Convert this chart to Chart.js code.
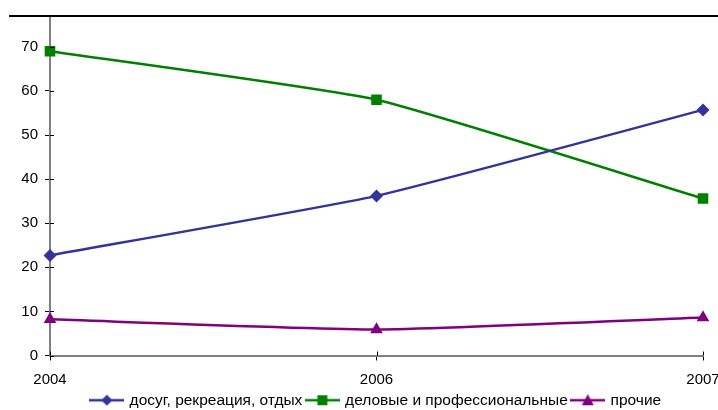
<!DOCTYPE html>
<html>
<head>
<meta charset="utf-8">
<script src="https://cdn.jsdelivr.net/npm/chart.js@4/dist/chart.umd.min.js"></script>
<style>
    html, body { margin: 0; padding: 0; background: #fff; }
    #wrap { width: 718px; height: 410px; }
</style>
</head>
<body>
<div id="wrap"><canvas id="chart" width="718" height="410"></canvas></div>
<script>
const years = ['2004', '2006', '2007']
const leisure = [22.7, 36.2, 55.7]
const business = [69.0, 58.0, 35.6]
const other = [8.2, 5.9, 8.6]
const yTicks = [0, 10, 20, 30, 40, 50, 60, 70]

const font = 'Arial, "Liberation Sans", sans-serif'

// small picture for legend: line with marker in middle
function legendIcon(color, style) {
    const c = document.createElement('canvas')
    c.width = 35
    c.height = 12
    const g = c.getContext('2d')
    g.strokeStyle = color
    g.lineWidth = 2.5
    g.beginPath()
    g.moveTo(0, 6)
    g.lineTo(35, 6)
    g.stroke()
    g.fillStyle = color
    g.beginPath()
    if (style == 'rectRot') {
        g.moveTo(17.5, 0.5); g.lineTo(23, 6); g.lineTo(17.5, 11.5); g.lineTo(12, 6)
    } else if (style == 'rect') {
        g.rect(12.5, 1, 10, 10)
    } else {
        g.moveTo(17.5, 0); g.lineTo(23.5, 11); g.lineTo(11.5, 11)
    }
    g.closePath()
    g.fill()
    return c
}

function makeSet(label, data, color, style, radius) {
    return {
        label: label,
        data: data,
        borderColor: color,
        backgroundColor: color,
        borderWidth: 2.5,
        pointStyle: style,
        pointRadius: radius,
        pointHoverRadius: radius,
        pointBorderWidth: 0,
        tension: 0.15,
        legendIcon: legendIcon(color, style)
    }
}

// top frame line and inner halves of the tick marks
const extras = {
    id: 'extras',
    afterDraw(chart) {
        const ctx = chart.ctx
        const a = chart.chartArea
        const x = chart.scales.x
        const y = chart.scales.y
        ctx.save()
        ctx.strokeStyle = '#000'
        ctx.lineWidth = 2
        ctx.beginPath()
        ctx.moveTo(9, a.top)
        ctx.lineTo(chart.width, a.top)
        ctx.stroke()
        ctx.lineWidth = 1
        ctx.beginPath()
        y.ticks.forEach((t) => {
            const py = Math.round(y.getPixelForValue(t.value)) + 0.5
            ctx.moveTo(a.left, py)
            ctx.lineTo(a.left + 4, py)
        })
        x.ticks.forEach((t, i) => {
            const px = Math.round(x.getPixelForTick(i)) + 0.5
            ctx.moveTo(px, a.bottom)
            ctx.lineTo(px, a.bottom - 4)
        })
        ctx.stroke()
        ctx.restore()
    }
}

Chart.defaults.font.family = font
Chart.defaults.font.size = 15
Chart.defaults.color = '#000'

new Chart(document.getElementById('chart'), {
    type: 'line',
    data: {
        labels: years,
        datasets: [
            makeSet('досуг, рекреация, отдых', leisure, '#333399', 'rectRot', 6.5),
            makeSet('деловые и профессиональные', business, '#008000', 'rect', 7.5),
            makeSet('прочие', other, '#800080', 'triangle', 7.3)
        ]
    },
    options: {
        responsive: false,
        animation: false,
        layout: { padding: { top: 14, right: 0, left: 0, bottom: -8 } },
        plugins: {
            tooltip: { enabled: false },
            legend: {
                position: 'bottom',
                fullSize: false,
                labels: {
                    usePointStyle: true,
                    pointStyleWidth: 30,
                    padding: 5,
                    font: { size: 15.5 },
                    generateLabels(chart) {
                        return chart.data.datasets.map((ds, i) => ({
                            text: ds.label,
                            pointStyle: ds.legendIcon,
                            fillStyle: ds.borderColor,
                            strokeStyle: ds.borderColor,
                            lineWidth: 0,
                            hidden: false,
                            datasetIndex: i
                        }))
                    }
                }
            }
        },
        scales: {
            x: {
                type: 'category',
                offset: false,
                border: { color: '#808080', width: 2 },
                grid: { drawOnChartArea: false, color: '#000', tickLength: 5, lineWidth: 1 },
                ticks: { padding: 10, maxRotation: 0 },
                afterFit(scale) {
                    scale.height = 32
                    scale.paddingLeft = 0
                    scale.paddingRight = 15
                }
            },
            y: {
                min: 0,
                max: 77,
                border: { color: '#808080', width: 2 },
                grid: { drawOnChartArea: false, color: '#000', tickLength: 5, lineWidth: 1 },
                ticks: { padding: 7 },
                afterBuildTicks(scale) { scale.ticks = yTicks.map((v) => ({ value: v })) },
                afterFit(scale) { scale.width = 50 }
            }
        }
    },
    plugins: [extras]
})
</script>
</body>
</html>
